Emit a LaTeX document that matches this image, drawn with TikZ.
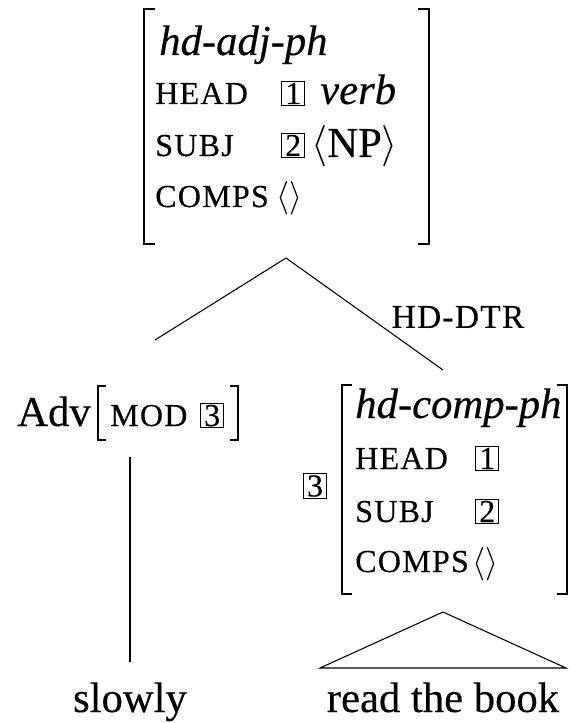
\RequirePackage{fix-cm}
\documentclass[tikz,border=0pt]{standalone}
\usepackage{fontspec}
\setmainfont{Liberation Serif}[UprightFeatures={FakeBold=0.35},ItalicFeatures={FakeBold=0.35}]
\newcommand\feat[1]{{\fontsize{24}{26}\selectfont\addfontfeature{LetterSpace=4}#1}}
\newcommand\bigang[1]{{\fontsize{31}{31}\selectfont$\langle$}#1{\fontsize{31}{31}\selectfont$\rangle$}}
\newcommand\emptylist{{\fontsize{25}{25}\selectfont$\langle\rangle$}}
\begin{document}
\begin{tikzpicture}[x=0.75pt,y=-0.75pt,
  txt/.style={inner sep=0pt, anchor=base west, font=\fontsize{32}{36}\selectfont},
  tagbox/.style={draw, line width=0.8pt, inner sep=0pt, minimum width=17.5pt,
                 minimum height=18.5pt, anchor=base west,
                 font=\fontsize{24}{26}\selectfont},
  brk/.style={line width=1.4pt},
  branch/.style={line width=0.8pt}]
\useasboundingbox (0,0) rectangle (574,723);

% ---- mother: hd-adj-ph ----
\draw[brk] (155,9) -- (144,9) -- (144,244) -- (155,244);
\draw[brk] (418,9) -- (429,9) -- (429,244) -- (418,244);
\node[txt] (mtype)  at (159,55)  {\textit{hd-adj-ph}};
\node[txt] (mhead)  at (155,104) {\feat{HEAD}};
\node[tagbox] (mt1) at (281,104) {1};
\node[txt] (mverb)  at (320,104) {\textit{verb}};
\node[txt] (msubj)  at (155,156) {\feat{SUBJ}};
\node[tagbox] (mt2) at (281,156) {2};
\node[txt] (mnp)    at (311,157) {\bigang{NP}};
\node[txt] (mcomps) at (155,207) {\feat{COMPS}};
\node[txt] (mcv)    at (276,207) {\emptylist};

% ---- adjunct daughter ----
\node[txt] (adv) at (17,426) {Adv};
\draw[brk] (106,386) -- (98,386) -- (98,440) -- (106,440);
\node[txt] (mod) at (110,426) {\feat{MOD}};
\node[tagbox] (at3) at (200,426) {3};
\draw[brk] (230,386) -- (238,386) -- (238,440) -- (230,440);

% ---- head daughter: hd-comp-ph ----
\node[tagbox, anchor=center] (ht3) at (315,486) {3};
\draw[brk] (352,385) -- (342,385) -- (342,594) -- (352,594);
\draw[brk] (557,385) -- (567,385) -- (567,594) -- (557,594);
\node[txt] (htype)  at (355,418) {\textit{hd-comp-ph}};
\node[txt] (hhead)  at (355,469) {\feat{HEAD}};
\node[tagbox] (ht1) at (475,469) {1};
\node[txt] (hsubj)  at (355,522) {\feat{SUBJ}};
\node[tagbox] (ht2) at (475,522) {2};
\node[txt] (hcomps) at (355,572) {\feat{COMPS}};
\node[txt] (hcv)    at (472,572) {\emptylist};

% ---- branches ----
\coordinate (apex)   at (286,258);
\coordinate (advtop) at (155,340);
\coordinate (hdtop)  at (443,370);
\draw[branch] (apex) -- (advtop);
\draw[branch] (apex) -- (hdtop);
\node[txt, anchor=center, font=\fontsize{25}{28}\selectfont\addfontfeature{LetterSpace=4}] (hdlab) at (458,317) {HD-DTR};

% ---- leaves ----
\coordinate (advbot) at (130,457);
\coordinate (advend) at (130,662);
\draw[branch] (advbot) -- (advend);
\node[txt, anchor=base] (slowly) at (130,712) {slowly};

\coordinate (tri) at (443,612);
\coordinate (tril) at (320,668);
\coordinate (trir) at (566,668);
\draw[branch] (tri) -- (tril) -- (trir) -- cycle;
\node[txt, anchor=base] (rtb) at (443,712) {read the book};
\end{tikzpicture}
\end{document}
